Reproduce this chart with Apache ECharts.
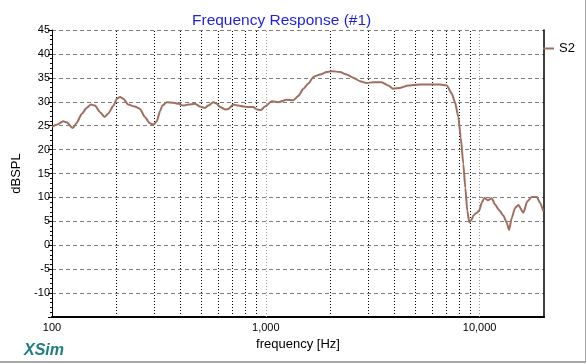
<!DOCTYPE html>
<html>
<head>
<meta charset="utf-8">
<script src="https://cdn.jsdelivr.net/npm/echarts@6/dist/echarts.min.js"></script>
<style>html,body{margin:0;padding:0;background:#fff;}#c{width:587px;height:364px;}</style>
</head>
<body>
<div id="c"></div>
<script>
const freq = [100,105,113,117,125,130,138,145,152,159,168,176,183,194,201,208,216,227,244,258,272,287,298,309,320,328,344,369,390,411,434,467,492,519,538,568,589,611,645,668,705,744,785,828,874,907,950,991,1066,1144,1253,1345,1419,1498,1581,1668,1793,1927,2033,2223,2390,2567,2757,2965,3184,3485,3741,3948,4243,4641,5263,6073,6528,7018,7406,7674,7952,8157,8388,8573,8760,8950,9184,9344,9692,9967,10228,10519,10911,11393,11804,12364,12908,13389,13725,14130,14643,15171,16011,16716,17526,18502,19164,19861];
const spl = [24.8,25.2,25.9,25.7,24.5,25.5,27.5,28.7,29.4,29.2,27.8,26.8,27.5,29.2,30.6,31.0,30.6,29.4,29.0,28.5,26.8,25.5,25.2,25.9,28.0,29.2,29.9,29.8,29.6,29.2,29.4,29.6,29.0,28.7,29.2,29.9,29.6,28.9,28.4,28.5,29.4,29.2,29.0,28.9,28.9,28.4,28.3,29.0,30.1,29.9,30.4,30.3,31.2,32.7,33.8,35.2,35.7,36.2,36.4,36.2,35.7,35.0,34.3,33.9,34.1,34.1,33.4,32.7,32.9,33.4,33.6,33.6,33.6,33.4,31.7,29.9,26.8,22.6,17.0,12.0,7.1,4.8,5.4,6.2,6.8,7.3,8.9,9.9,9.4,9.8,8.5,7.3,6.2,4.7,3.2,5.7,7.8,8.4,6.8,9.2,10.1,10.1,8.9,7.1];
const minorFreqs = [200,300,400,500,600,700,800,900,2000,3000,4000,5000,6000,7000,8000,9000];
const decadeFreqs = [1000,10000];
const xLabels = {100:'100',1000:'1,000',10000:'10,000'};

const chart = echarts.init(document.getElementById('c'), null, {renderer:'canvas'});
const vlines = minorFreqs.map(f => ({xAxis: f, lineStyle:{color:'#000', type:[1,2], width:1}}))
  .concat(decadeFreqs.map(f => ({xAxis: f, lineStyle:{color:'#999', type:[1,2], width:1}})));

chart.setOption({
  animation: false,
  textStyle: {fontFamily: 'Liberation Sans, Arial, sans-serif'},
  title: [
    {text: 'Frequency Response (#1)', left: 187, top: 8,
     textStyle: {color: '#1f1fe0', fontSize: 15.5, fontWeight: 'normal', fontFamily: 'Liberation Sans, Arial, sans-serif'}},
    {text: 'XSim', left: 19, top: 338,
     textStyle: {color: '#1f7f80', fontSize: 16, fontWeight: 'bold', fontStyle: 'italic', fontFamily: 'Liberation Sans, Arial, sans-serif'}}
  ],
  legend: {
    data: ['S2'], left: 538, top: 37, icon: 'rect', itemWidth: 11, itemHeight: 2, itemGap: 4,
    textStyle: {color: '#000', fontSize: 13, fontFamily: 'Liberation Sans, Arial, sans-serif'}
  },
  grid: {left: 52, right: 43, top: 30, bottom: 47},
  xAxis: {
    type: 'log', logBase: 10, min: 100, max: 20000,
    name: 'frequency [Hz]', nameLocation: 'middle', nameGap: 18,
    nameTextStyle: {color: '#000', fontSize: 13},
    axisLine: {show: true, onZero: false, lineStyle: {color: '#000', width: 2}},
    axisTick: {show: false},
    axisLabel: {color: '#000', fontSize: 11, margin: 5,
      formatter: v => xLabels[Math.round(v)] || ''},
    splitLine: {show: false}
  },
  yAxis: [{
    type: 'value', min: -15, max: 45, interval: 5,
    name: 'dBSPL', nameLocation: 'middle', nameGap: 26,
    nameTextStyle: {color: '#000', fontSize: 13},
    axisLine: {show: true, lineStyle: {color: '#000', width: 1}},
    axisTick: {show: true, length: 4, lineStyle: {color: '#000'}},
    minorTick: {show: true, splitNumber: 5, length: 2, lineStyle: {color: '#000'}},
    axisLabel: {color: '#000', fontSize: 11, margin: 2,
      formatter: v => (v === -15 ? '' : String(v))},
    splitLine: {show: true, lineStyle: {color: '#808080', type: [4,3], width: 1}}
  },{
    type: 'value', min: -15, max: 45, interval: 5, position: 'right',
    axisLine: {show: true, lineStyle: {color: '#000', width: 1.5}},
    axisTick: {show: false}, axisLabel: {show: false}, splitLine: {show: false}
  }],
  graphic: [
    {type: 'line', shape: {x1: 0, y1: 362, x2: 586, y2: 362}, style: {stroke: '#a8a8a8', lineWidth: 2}},
    {type: 'line', shape: {x1: 585.5, y1: 0, x2: 585.5, y2: 363}, style: {stroke: '#a8a8a8', lineWidth: 1}}
  ],
  series: [{
    name: 'S2', type: 'line', yAxisIndex: 0,
    data: freq.map((f, i) => [f, spl[i]]),
    showSymbol: false, symbol: 'none', smooth: 0.2, smoothMonotone: 'x',
    lineStyle: {color: '#a06e5e', width: 2},
    itemStyle: {color: '#a06e5e'},
    z: 3,
    markLine: {silent: true, symbol: 'none', z: 1, label: {show: false},
      data: vlines}
  }]
});
</script>
</body>
</html>
